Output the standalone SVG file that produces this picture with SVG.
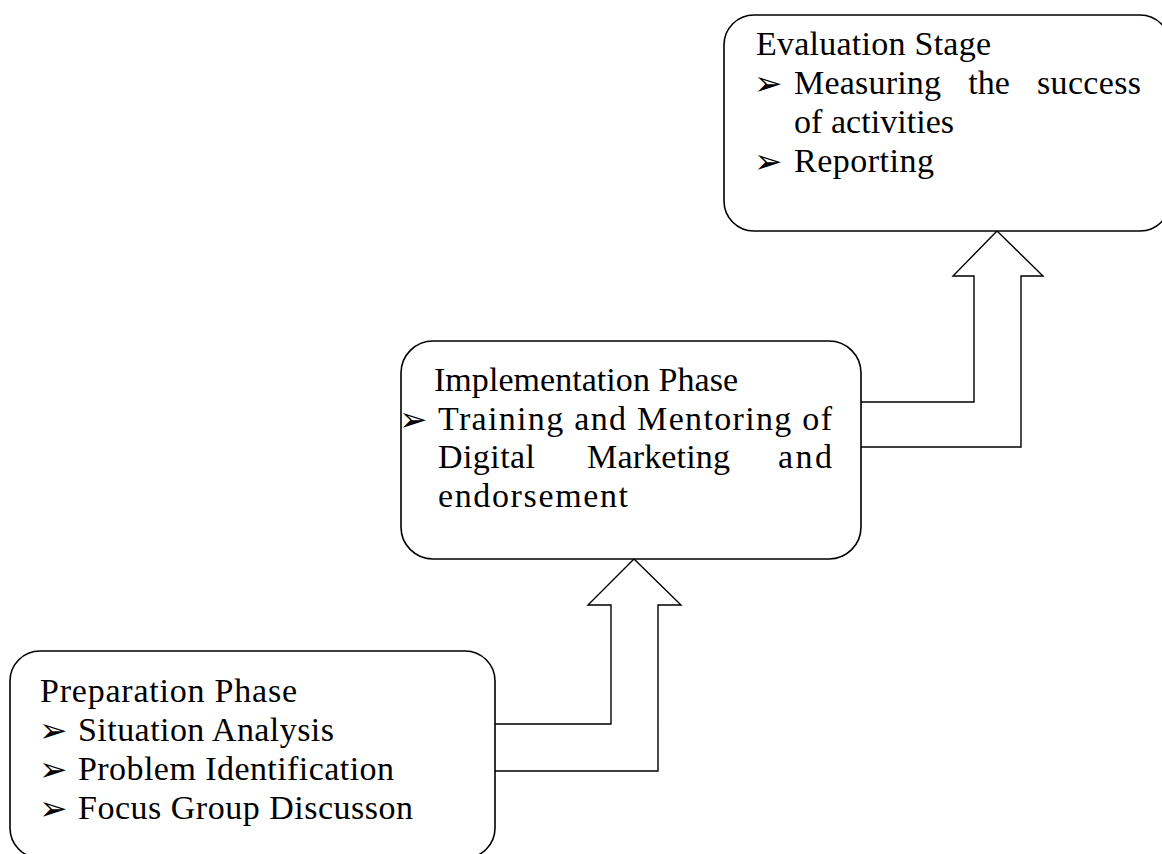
<svg xmlns="http://www.w3.org/2000/svg" width="1162" height="854" viewBox="0 0 1162 854">
<style>
.box{fill:#fff;stroke:#000;stroke-width:1.6}
.arr{fill:#fff;stroke:#000;stroke-width:1.4;stroke-linejoin:miter}
.t{font-family:"Liberation Serif","Times New Roman",serif;font-size:34px;fill:#000}
.b{font-family:"DejaVu Sans",sans-serif;font-size:34px;fill:#000}
</style>
<rect width="1162" height="854" fill="#fff"/>
<g id="connectors">
<path class="arr" d="M861 402 H974 V276 H953 L997 231 L1043 276 H1021 V447 H861"/>
<path class="arr" d="M495 724 H611 V605 H588 L634 559 L681 605 H658 V771 H495"/>
</g>
<g id="evaluation">
<rect class="box" x="724" y="15" width="446" height="216" rx="30" ry="30"/>
<text class="t" x="756" y="55" textLength="235">Evaluation Stage</text>
<text class="b" x="754" y="95">➢</text>
<text class="t" x="794" y="94" textLength="147">Measuring</text>
<text class="t" x="989" y="94" text-anchor="middle">the</text>
<text class="t" x="1141" y="94" text-anchor="end" textLength="104">success</text>
<text class="t" x="794" y="133" textLength="160">of activities</text>
<text class="b" x="754" y="173">➢</text>
<text class="t" x="794" y="172" textLength="140">Reporting</text>
</g>
<g id="implementation">
<rect class="box" x="401" y="341" width="460" height="218" rx="32" ry="32"/>
<text class="t" x="434" y="391" textLength="304">Implementation Phase</text>
<text class="b" x="399" y="431">➢</text>
<text class="t" x="438" y="430" textLength="394">Training and Mentoring of</text>
<text class="t" x="438" y="468" textLength="97">Digital</text>
<text class="t" x="587" y="468" textLength="143">Marketing</text>
<text class="t" x="832" y="468" text-anchor="end" textLength="54">and</text>
<text class="t" x="438" y="507" textLength="190">endorsement</text>
</g>
<g id="preparation">
<rect class="box" x="10" y="651" width="485" height="207" rx="30" ry="30"/>
<text class="t" x="40" y="702" textLength="257">Preparation Phase</text>
<text class="b" x="39" y="742">➢</text>
<text class="t" x="78" y="741" textLength="256">Situation Analysis</text>
<text class="b" x="39" y="781">➢</text>
<text class="t" x="78" y="780" textLength="316">Problem Identification</text>
<text class="b" x="39" y="820">➢</text>
<text class="t" x="78" y="819" textLength="335">Focus Group Discusson</text>
</g>
</svg>
